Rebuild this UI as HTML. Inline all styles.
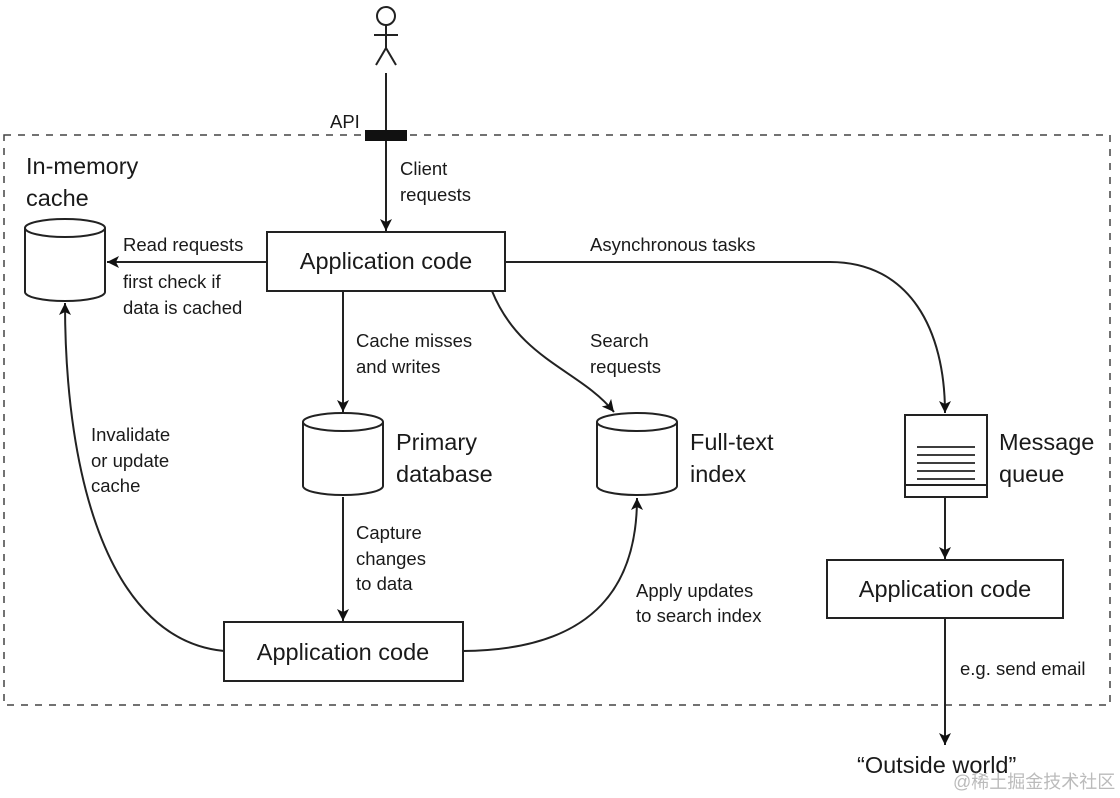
<!DOCTYPE html>
<html><head><meta charset="utf-8"><style>
html,body{margin:0;padding:0;background:#fff;}
svg{display:block;}
text{font-family:"Liberation Sans","Noto Sans CJK SC",sans-serif;fill:#1a1a1a;}
.s{font-size:18.5px;}
.b{font-size:23.5px;}
</style></head><body>
<svg width="1120" height="798" viewBox="0 0 1120 798" xmlns="http://www.w3.org/2000/svg">
<defs><marker id="a" markerWidth="12" markerHeight="14" refX="12" refY="7" orient="auto" markerUnits="userSpaceOnUse"><path d="M0,1 L12,7 L0,13 L3,7 Z" fill="#111"/></marker></defs>
<g fill="none" stroke="#222" stroke-width="2">
<rect x="4" y="135" width="1106" height="570" stroke-dasharray="7,7" stroke="#444" stroke-width="1.5"/>
<circle cx="386" cy="16" r="9"/>
<line x1="386" y1="25" x2="386" y2="48"/><line x1="374" y1="35" x2="398" y2="35"/>
<line x1="386" y1="48" x2="376" y2="65"/><line x1="386" y1="48" x2="396" y2="65"/>
<line x1="386" y1="73" x2="386" y2="231" marker-end="url(#a)"/>
<rect x="267" y="232" width="238" height="59"/>
<rect x="827" y="560" width="236" height="58"/>
<rect x="224" y="622" width="239" height="59"/>
<path d="M25,228 v64 a40,9 0 0 0 80,0 v-64"/><ellipse cx="65" cy="228" rx="40" ry="9"/>
<path d="M303,422 v64 a40,9 0 0 0 80,0 v-64"/><ellipse cx="343" cy="422" rx="40" ry="9"/>
<path d="M597,422 v64 a40,9 0 0 0 80,0 v-64"/><ellipse cx="637" cy="422" rx="40" ry="9"/>
<rect x="905" y="415" width="82" height="82"/><line x1="905" y1="485" x2="987" y2="485"/>
<g stroke-width="1.8"><line x1="917" y1="447" x2="975" y2="447"/><line x1="917" y1="455" x2="975" y2="455"/><line x1="917" y1="463" x2="975" y2="463"/><line x1="917" y1="471" x2="975" y2="471"/><line x1="917" y1="479" x2="975" y2="479"/></g>
<line x1="267" y1="262" x2="107" y2="262" marker-end="url(#a)"/>
<line x1="343" y1="291" x2="343" y2="412" marker-end="url(#a)"/>
<path d="M492,291 C520,360 580,370 614,412" marker-end="url(#a)"/>
<path d="M505,262 L830,262 C910,262 945,330 945,413" marker-end="url(#a)"/>
<line x1="945" y1="497" x2="945" y2="559" marker-end="url(#a)"/>
<line x1="945" y1="618" x2="945" y2="745" marker-end="url(#a)"/>
<line x1="343" y1="497" x2="343" y2="621" marker-end="url(#a)"/>
<path d="M224,651 C110,640 65,480 65,303" marker-end="url(#a)"/>
<path d="M463,651 C600,650 637,580 637,498" marker-end="url(#a)"/>
</g>
<rect x="365" y="130" width="42" height="11" fill="#111"/>
<text class="s" x="330" y="128">API</text>
<text class="s" x="400" y="175">Client</text><text class="s" x="400" y="201">requests</text>
<text class="b" x="26" y="174">In-memory</text><text class="b" x="26" y="206">cache</text>
<text class="b" x="386" y="269" text-anchor="middle">Application code</text>
<text class="s" x="123" y="251">Read requests</text>
<text class="s" x="123" y="288">first check if</text><text class="s" x="123" y="314">data is cached</text>
<text class="s" x="590" y="251">Asynchronous tasks</text>
<text class="s" x="356" y="347">Cache misses</text><text class="s" x="356" y="373">and writes</text>
<text class="s" x="590" y="347">Search</text><text class="s" x="590" y="373">requests</text>
<text class="b" x="396" y="450">Primary</text><text class="b" x="396" y="482">database</text>
<text class="b" x="690" y="450">Full-text</text><text class="b" x="690" y="482">index</text>
<text class="b" x="999" y="450">Message</text><text class="b" x="999" y="482">queue</text>
<text class="s" x="91" y="441">Invalidate</text><text class="s" x="91" y="467">or update</text><text class="s" x="91" y="492">cache</text>
<text class="s" x="356" y="539">Capture</text><text class="s" x="356" y="565">changes</text><text class="s" x="356" y="590">to data</text>
<text class="s" x="636" y="597">Apply updates</text><text class="s" x="636" y="622">to search index</text>
<text class="b" x="945" y="597" text-anchor="middle">Application code</text>
<text class="b" x="343" y="660" text-anchor="middle">Application code</text>
<text class="s" x="960" y="675">e.g. send email</text>
<text class="b" x="857" y="773">“Outside world”</text>
<text x="953" y="788" style="font-size:18px;fill:#bbb">@稀土掘金技术社区</text>
</svg>
</body></html>
